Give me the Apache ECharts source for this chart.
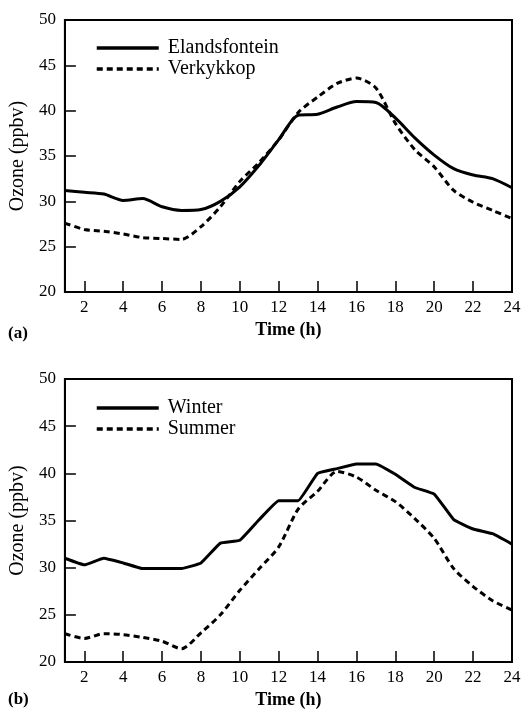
<!DOCTYPE html>
<html>
<head>
<meta charset="utf-8">
<script src="https://cdn.jsdelivr.net/npm/echarts@6/dist/echarts.min.js"></script>
<style>
  html, body { margin: 0; padding: 0; background: #fff; }
  #chart { width: 529px; height: 711px; }
</style>
</head>
<body>
<div id="chart"></div>
<script>
// hours 1..24 and ozone (ppbv)
const hours = ['1','2','3','4','5','6','7','8','9','10','11','12','13','14','15','16','17','18','19','20','21','22','23','24']

// (a) sites
const elandsfontein = [31.2, 31.0, 30.8, 30.1, 30.3, 29.4, 29.0, 29.1, 30.0, 31.6, 34.0, 36.8, 39.5, 39.6, 40.4, 41.0, 40.9, 39.2, 37.0, 35.1, 33.6, 32.9, 32.5, 31.5]
const verkykkop = [27.6, 26.9, 26.7, 26.4, 26.0, 25.9, 25.8, 27.2, 29.4, 32.2, 34.3, 36.8, 39.8, 41.5, 43.0, 43.6, 42.5, 38.6, 35.7, 33.8, 31.2, 29.9, 29.0, 28.1]

// (b) seasons
const winter = [31.0, 30.3, 31.0, 30.5, 29.9, 29.9, 29.9, 30.5, 32.6, 32.9, 35.1, 37.1, 37.1, 40.0, 40.5, 41.0, 41.0, 39.9, 38.5, 37.8, 35.1, 34.1, 33.6, 32.5]
const summer = [23.0, 22.5, 23.0, 22.9, 22.6, 22.2, 21.4, 23.1, 25.0, 27.6, 29.9, 32.2, 36.2, 38.1, 40.2, 39.6, 38.2, 37.0, 35.2, 33.1, 29.9, 28.0, 26.5, 25.5]

const yTicks = [20, 25, 30, 35, 40, 45, 50]

const serif = 'Liberation Serif'
const evenHour = (i) => i % 2 === 1

const makeX = (gridIndex) => ({
  type: 'category',
  gridIndex,
  data: hours,
  boundaryGap: false,
  name: 'Time (h)',
  nameLocation: 'middle',
  nameGap: 29,
  nameTextStyle: { fontFamily: serif, fontSize: 18, fontWeight: 'bold', color: '#000' },
  axisLine: { lineStyle: { color: '#000', width: 2 } },
  axisTick: { inside: true, length: 11, interval: evenHour, alignWithLabel: true, lineStyle: { color: '#000', width: 1.5 } },
  axisLabel: { interval: evenHour, margin: 7, fontFamily: serif, fontSize: 17, color: '#000' },
  splitLine: { show: false }
})

const makeY = (gridIndex) => ({
  type: 'value',
  gridIndex,
  min: yTicks[0],
  max: yTicks[yTicks.length - 1],
  interval: 5,
  name: 'Ozone (ppbv)',
  nameLocation: 'middle',
  nameGap: 36,
  nameTextStyle: { fontFamily: serif, fontSize: 20, color: '#000' },
  axisLine: { show: true, lineStyle: { color: '#000', width: 2 } },
  axisTick: { show: true, inside: true, length: 11, lineStyle: { color: '#000', width: 1.5 } },
  axisLabel: { margin: 9, fontFamily: serif, fontSize: 17, color: '#000' },
  splitLine: { show: false }
})

const solid = { color: '#000', width: 3, type: 'solid' }
const dashed = { color: '#000', width: 3, type: [6, 4] }

const legendText = { fontFamily: serif, fontSize: 20, color: '#000', padding: [0, 0, 0, 4] }
// hide the marker dot, keep the line sample
const legendItem = { opacity: 0 }
const legendLine = { width: 3.5 }

const option = {
  animation: false,
  backgroundColor: '#fff',
  title: [
    { text: '(a)', left: 3, top: 320, textStyle: { fontFamily: serif, fontSize: 17, fontWeight: 'bold', color: '#000' } },
    { text: '(b)', left: 3, top: 686, textStyle: { fontFamily: serif, fontSize: 17, fontWeight: 'bold', color: '#000' } }
  ],
  grid: [
    { left: 63, right: 17, top: 20, height: 272, show: true, borderColor: '#000', borderWidth: 2, backgroundColor: 'transparent' },
    { left: 63, right: 17, top: 379, height: 283, show: true, borderColor: '#000', borderWidth: 2, backgroundColor: 'transparent' }
  ],
  legend: [
    {
      data: ['Elandsfontein', 'Verkykkop'],
      orient: 'vertical', left: 90, top: 33, itemWidth: 62, itemHeight: 12, itemGap: 1,
      textStyle: legendText, itemStyle: legendItem, lineStyle: legendLine
    },
    {
      data: ['Winter', 'Summer'],
      orient: 'vertical', left: 90, top: 393, itemWidth: 62, itemHeight: 12, itemGap: 1,
      textStyle: legendText, itemStyle: legendItem, lineStyle: legendLine
    }
  ],
  xAxis: [makeX(0), makeX(1)],
  yAxis: [makeY(0), makeY(1)],
  series: [
    { name: 'Elandsfontein', type: 'line', xAxisIndex: 0, yAxisIndex: 0, data: elandsfontein, smooth: 0.25, showSymbol: false, symbol: 'none', lineStyle: solid, itemStyle: { color: '#000' } },
    { name: 'Verkykkop', type: 'line', xAxisIndex: 0, yAxisIndex: 0, data: verkykkop, smooth: 0.25, showSymbol: false, symbol: 'none', lineStyle: dashed, itemStyle: { color: '#000' } },
    { name: 'Winter', type: 'line', xAxisIndex: 1, yAxisIndex: 1, data: winter, smooth: 0.1, showSymbol: false, symbol: 'none', lineStyle: solid, itemStyle: { color: '#000' } },
    { name: 'Summer', type: 'line', xAxisIndex: 1, yAxisIndex: 1, data: summer, smooth: 0.25, showSymbol: false, symbol: 'none', lineStyle: dashed, itemStyle: { color: '#000' } }
  ]
}

const chart = echarts.init(document.getElementById('chart'))
chart.setOption(option)
</script>
</body>
</html>
